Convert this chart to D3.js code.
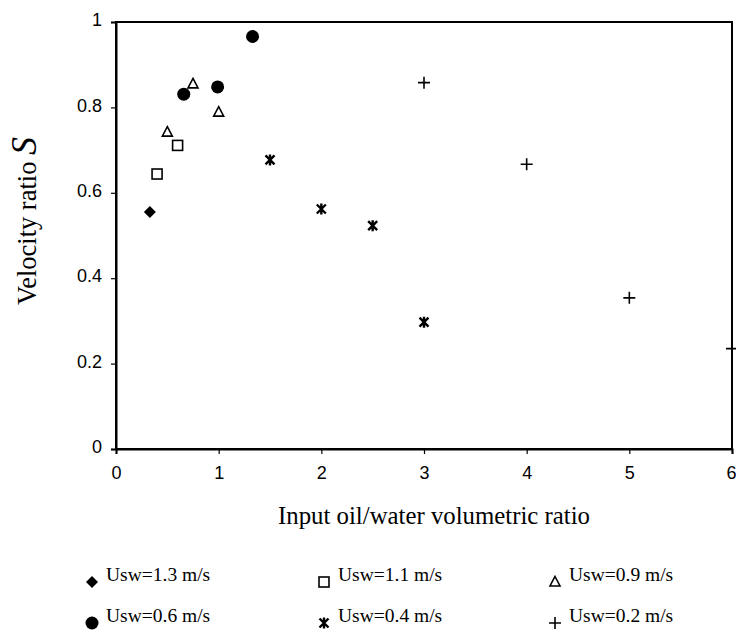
<!DOCTYPE html>
<html><head><meta charset="utf-8">
<script src="https://cdn.jsdelivr.net/npm/d3@7"></script>
<style>body{margin:0;background:#fff}svg{display:block}</style>
</head><body>
<svg id="c" width="736" height="635"></svg>
<script>
const xTicks = [0,1,2,3,4,5,6];
const yTicks = [0,0.2,0.4,0.6,0.8,1];
const yTickLabels = ["0","0.2","0.4","0.6","0.8","1"];
const seriesNames = ["Usw=1.3 m/s","Usw=1.1 m/s","Usw=0.9 m/s","Usw=0.6 m/s","Usw=0.4 m/s","Usw=0.2 m/s"];
const seriesMarkers = ["diamond","square","triangle","circle","star","plus"];
const s13x = [0.33], s13y = [0.555];
const s11x = [0.40,0.60], s11y = [0.644,0.711];
const s09x = [0.50,0.75,1.0], s09y = [0.742,0.855,0.789];
const s06x = [0.66,0.99,1.33], s06y = [0.831,0.848,0.966];
const s04x = [1.5,2.0,2.5,3.0], s04y = [0.677,0.562,0.523,0.297];
const s02x = [3.0,4.0,5.0,6.0], s02y = [0.858,0.667,0.354,0.235];
const seriesX = [s13x,s11x,s09x,s06x,s04x,s02x];
const seriesY = [s13y,s11y,s09y,s06y,s04y,s02y];

const svg = d3.select("#c");
const x = d3.scaleLinear().domain([0,6]).range([116,732]);
const y = d3.scaleLinear().domain([0,1]).range([449,22]);

svg.append("rect").attr("x",x(0)).attr("y",y(1)).attr("width",x(6)-x(0)).attr("height",y(0)-y(1))
  .attr("fill","none").attr("stroke","#000").attr("stroke-width",2);

const xa = svg.append("g").attr("transform",`translate(0,${y(0)})`)
  .call(d3.axisBottom(x).tickValues(xTicks).tickFormat(d3.format("d")).tickSize(5).tickPadding(12));
const ya = svg.append("g").attr("transform",`translate(${x(0)},0)`)
  .call(d3.axisLeft(y).tickValues(yTicks).tickFormat((d,i)=>yTickLabels[i]).tickSize(5).tickPadding(9));
[xa,ya].forEach(g=>{
  g.select(".domain").attr("stroke","#000").attr("stroke-width",2);
  g.selectAll(".tick line").attr("stroke","#000").attr("stroke-width",1.2);
  g.selectAll("text").attr("font-family","Liberation Sans, Arial, sans-serif").attr("font-size",18).attr("fill","#000");
});
ya.selectAll(".tick text").attr("dy","0.2em");
xa.selectAll(".tick text").filter(d=>d===6).attr("text-anchor","end").attr("dx",4);

function marker(g, type){
  switch(type){
    case "diamond": g.append("path").attr("d","M0,-6L6,0L0,6L-6,0Z").attr("fill","#000"); break;
    case "square": g.append("rect").attr("x",-5).attr("y",-5).attr("width",10).attr("height",10).attr("fill","#fff").attr("stroke","#000").attr("stroke-width",1.6); break;
    case "triangle": g.append("path").attr("d","M0,-5.5L5,4L-5,4Z").attr("fill","#fff").attr("stroke","#000").attr("stroke-width",1.6); break;
    case "circle": g.append("circle").attr("r",6.5).attr("fill","#000"); break;
    case "star": g.append("path").attr("d","M-4.5,-4.5L4.5,4.5M4.5,-4.5L-4.5,4.5M0,-5.5L0,5.5").attr("stroke","#000").attr("stroke-width",2.4).attr("fill","none"); break;
    case "plus": g.append("path").attr("d","M-6,0L6,0M0,-6L0,6").attr("stroke","#000").attr("stroke-width",1.6).attr("fill","none"); break;
  }
}

seriesNames.forEach((n,i)=>{
  const pts = seriesX[i].map((v,j)=>[v,seriesY[i][j]]);
  svg.append("g").selectAll("g").data(pts).join("g")
    .attr("transform",d=>`translate(${x(d[0])},${y(d[1])})`)
    .each(function(){ marker(d3.select(this), seriesMarkers[i]); });
});

svg.append("text").attr("x",434).attr("y",524).attr("text-anchor","middle")
  .attr("font-family","Liberation Serif, Times New Roman, serif").attr("font-size",24.8).text("Input oil/water volumetric ratio");
const yt = svg.append("text").attr("transform","translate(36,221) rotate(-90)").attr("text-anchor","middle")
  .attr("font-family","Liberation Serif, Times New Roman, serif").attr("font-size",26.5);
yt.append("tspan").text("Velocity ratio ");
yt.append("tspan").attr("font-style","italic").attr("font-size",36).text("S");

const lx = [92,324,555], ly = [582,623];
seriesNames.forEach((n,i)=>{
  const cx = lx[i%3], cy = ly[Math.floor(i/3)];
  const g = svg.append("g").attr("transform",`translate(${cx},${cy})`);
  marker(g, seriesMarkers[i]);
  svg.append("text").attr("x",cx+14).attr("y",cy-1)
    .attr("font-family","Liberation Serif, Times New Roman, serif").attr("font-size",19.5).text(n);
});
</script>
</body></html>
